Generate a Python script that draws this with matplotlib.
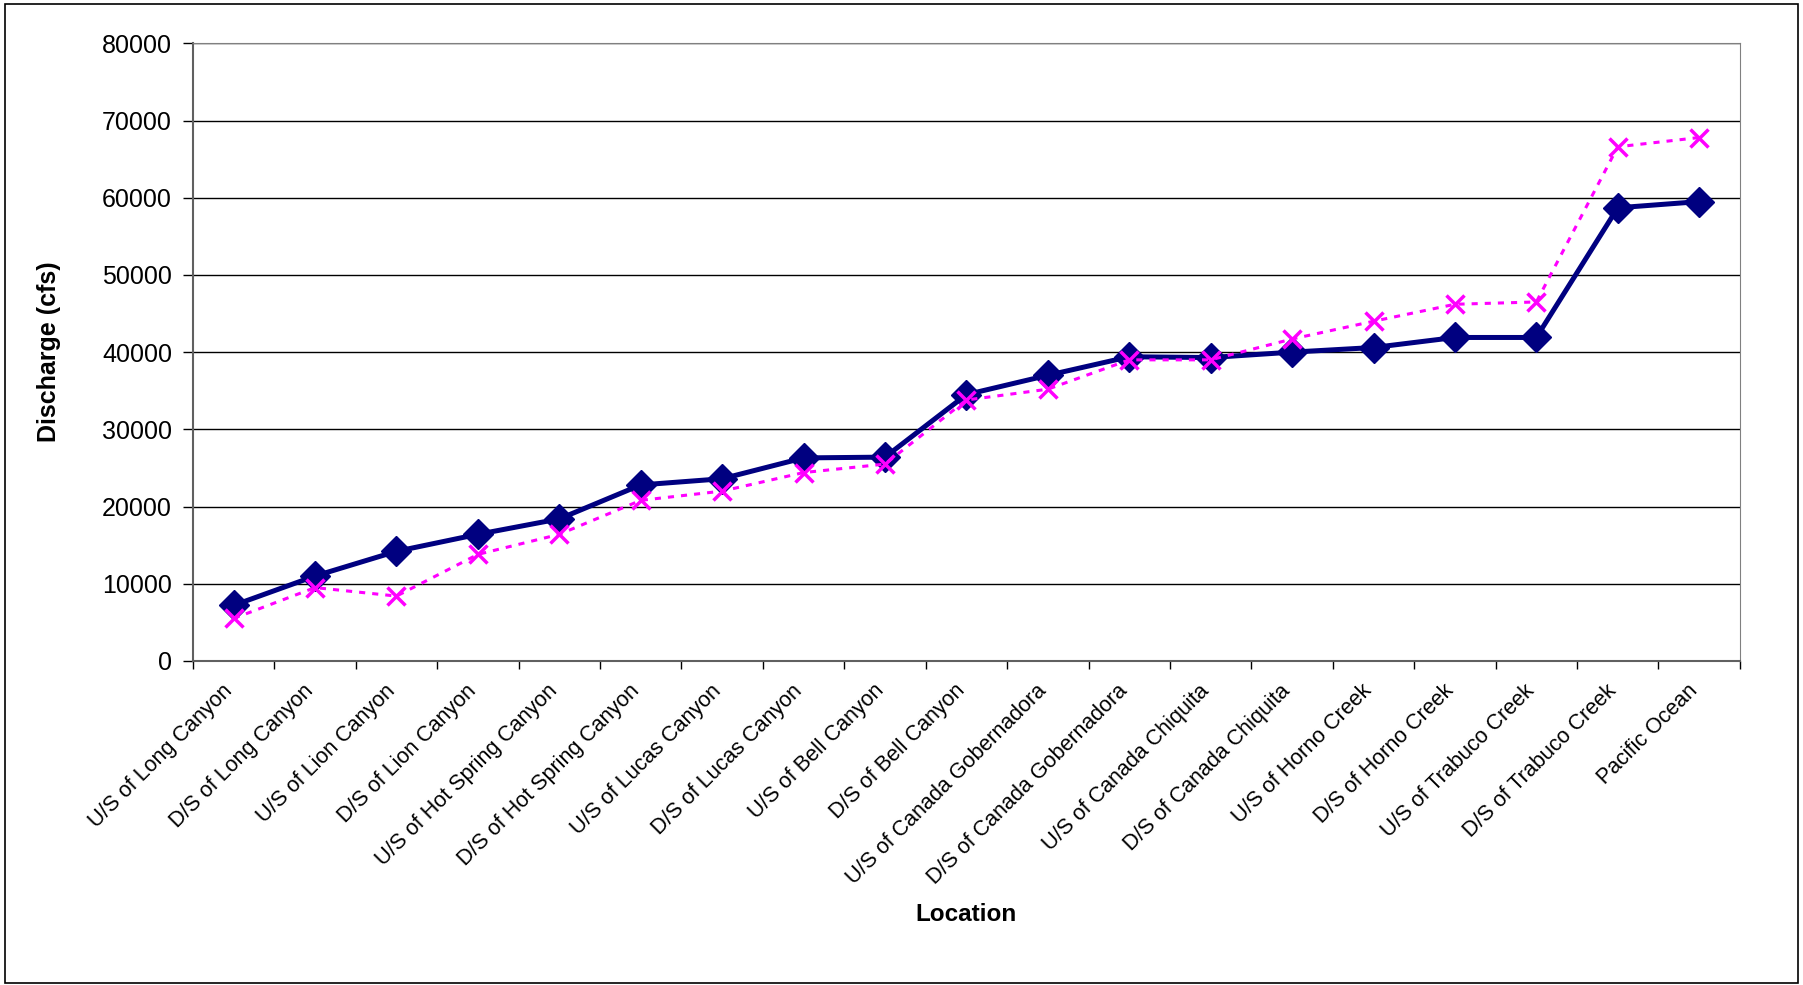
import numpy as np
from matplotlib import pyplot as plt
from matplotlib.transforms import ScaledTranslation

plt.rcParams['font.family'] = ['Liberation Sans', 'DejaVu Sans']

# Lokalizacje i wartości przepływu
locations = ['U/S of Long Canyon', 'D/S of Long Canyon', 'U/S of Lion Canyon',
             'D/S of Lion Canyon', 'U/S of Hot Spring Canyon', 'D/S of Hot Spring Canyon',
             'U/S of Lucas Canyon', 'D/S of Lucas Canyon', 'U/S of Bell Canyon',
             'D/S of Bell Canyon', 'U/S of Canada Gobernadora', 'D/S of Canada Gobernadora',
             'U/S of Canada Chiquita', 'D/S of Canada Chiquita', 'U/S of Horno Creek',
             'D/S of Horno Creek', 'U/S of Trabuco Creek', 'D/S of Trabuco Creek',
             'Pacific Ocean']
series_a = [7200, 11000, 14200, 16400, 18400, 22800, 23600, 26300, 26400,
            34500, 37000, 39400, 39300, 40000, 40600, 41900, 41900, 58700, 59500]
series_b = [5500, 9500, 8400, 13800, 16400, 20800, 22000, 24400, 25500,
            33800, 35200, 39000, 39000, 41700, 44000, 46200, 46500, 66600, 67800]
y_ticks = np.arange(0, 80001, 10000)

fig = plt.figure(figsize=(18.03, 9.85), dpi=100)
ax = fig.add_axes([0.107, 0.329, 0.858, 0.627])

x = np.arange(len(locations))
ax.plot(x, series_a, color='#000080', linewidth=3.6, marker='D', markersize=15,
        markerfacecolor='#000080', markeredgecolor='#000080', zorder=3)
ax.plot(x, series_b, color='#FF00FF', linewidth=2.2, linestyle=(0, (2, 2.3)),
        marker='x', markersize=12.5, markeredgewidth=2.5, zorder=4)

ax.set_xlim(-0.5, len(locations) - 0.5)
ax.set_ylim(0, 80000)
ax.set_yticks(y_ticks)
ax.set_yticklabels([str(v) for v in y_ticks], fontsize=18)
ax.yaxis.grid(True, color='black', linewidth=1)
ax.set_axisbelow(True)

ax.set_xticks(x)
ax.set_xticklabels(locations, rotation=45, ha='right', rotation_mode='anchor', fontsize=15.5)
ax.set_xticks(np.arange(-0.5, len(locations), 1), minor=True)
ax.tick_params(axis='x', which='major', length=0, pad=14)
ax.tick_params(axis='x', which='minor', length=6, width=1, color='black')
ax.tick_params(axis='y', length=7, width=1, direction='out', pad=8)

# przesunięcie etykiet kategorii w lewo
shift = ScaledTranslation(-0.12, 0, fig.dpi_scale_trans)
for lab in ax.get_xticklabels():
    lab.set_transform(lab.get_transform() + shift)

for side in ['top', 'right']:
    ax.spines[side].set_color('#808080')
for side in ['left', 'bottom']:
    ax.spines[side].set_color('#606060')
    ax.spines[side].set_linewidth(1.5)

ax.set_ylabel('Discharge (cfs)', fontsize=18, fontweight='bold')
ax.set_xlabel('Location', fontsize=17.5, fontweight='bold')
ax.yaxis.set_label_coords(-0.085, 0.5)
ax.xaxis.set_label_coords(0.5, -0.392)

# ramka wokół całego wykresu
fig.patches.append(plt.Rectangle((0.003, 0.002), 0.994, 0.994, transform=fig.transFigure,
                                 fill=False, edgecolor='black', linewidth=1.2))

fig.savefig('out.png', dpi=100)
